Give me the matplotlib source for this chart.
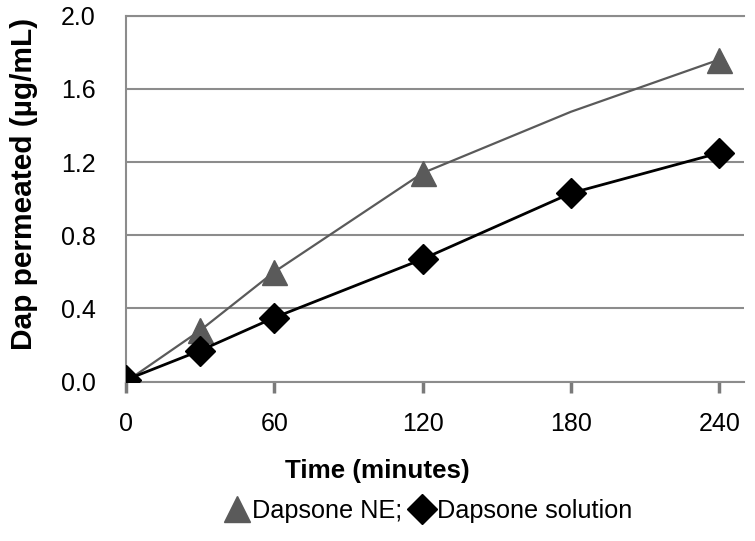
import matplotlib
matplotlib.use("Agg")
import matplotlib.pyplot as plt
from matplotlib.lines import Line2D

plt.rcParams['font.family'] = ['Liberation Sans', 'DejaVu Sans']

# 데이터
time_ne = [0, 30, 60, 120, 180, 240]
dap_ne = [0.0, 0.28, 0.60, 1.14, 1.475, 1.76]
ne_marked = [0, 1, 2, 3, 5]   # 180분에는 마커 없음

time_sol = [0, 30, 60, 120, 180, 240]
dap_sol = [0.01, 0.17, 0.35, 0.67, 1.03, 1.25]

x_ticks = [0, 60, 120, 180, 240]
y_ticks = [0.0, 0.4, 0.8, 1.2, 1.6, 2.0]

fig = plt.figure(figsize=(7.55, 5.41), dpi=100)
ax = fig.add_axes([0.1669, 0.2945, 0.8185, 0.6765])

gray = '#5a5a5a'
ax.plot(time_ne, dap_ne, color=gray, lw=1.6, marker='^', markersize=18,
        markevery=ne_marked, mfc=gray, mec=gray, zorder=3)
ax.plot(time_sol, dap_sol, color='black', lw=2.0, marker='D', markersize=15,
        mfc='black', mec='black', zorder=4)

ax.set_xlim(0, 250)
ax.set_ylim(0, 2.0)
ax.set_xticks(x_ticks)
ax.set_yticks(y_ticks)
ax.set_yticklabels([f"{v:.1f}" for v in y_ticks])
ax.tick_params(axis='x', direction='out', length=8, width=2.5, color='#7a7a7a',
               labelsize=18, pad=14)
ax.tick_params(axis='y', length=0, labelsize=18, pad=22)

# 격자선
ax.grid(axis='y', color='#8c8c8c', lw=1.5)
ax.set_axisbelow(True)
for s in ['top', 'right']:
    ax.spines[s].set_visible(False)
ax.spines['left'].set_color('#8c8c8c')
ax.spines['left'].set_linewidth(1.5)
ax.spines['bottom'].set_color('#8c8c8c')
ax.spines['bottom'].set_linewidth(1.5)
ax.axhline(2.0, color='#8c8c8c', lw=1.5, clip_on=False)

fig.text(0.032, 1 - 184 / 541, 'Dap permeated (µg/mL)', rotation=90,
         ha='center', va='center', fontsize=21.5, fontweight='bold')
fig.text(0.5, 1 - 471 / 541, 'Time (minutes)', ha='center', va='center',
         fontsize=18.7, fontweight='bold')

handles = [Line2D([], [], ls='none', marker='^', color=gray, markersize=19),
           Line2D([], [], ls='none', marker='D', color='black', markersize=15)]
fig.legend(handles, ['Dapsone NE;', 'Dapsone solution'], loc='center',
           bbox_to_anchor=(0.568, 1 - 511 / 541), ncol=2, frameon=False,
           fontsize=18.2, handlelength=0.9, handletextpad=0.15, columnspacing=0.3)

fig.savefig('out.png', dpi=100)
